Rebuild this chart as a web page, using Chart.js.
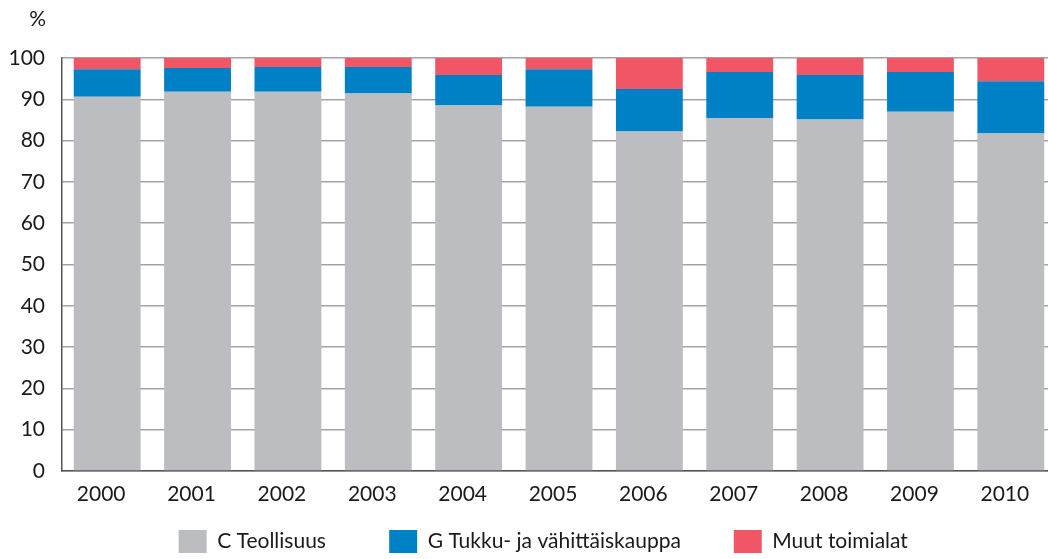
<!DOCTYPE html>
<html>
<head>
<meta charset="utf-8">
<script src="https://cdn.jsdelivr.net/npm/chart.js@4"></script>
<style>
  html, body { margin: 0; padding: 0; background: #fff; overflow: hidden; }
  #wrap { width: 1056px; height: 559px; }
</style>
</head>
<body>
<div id="wrap"><canvas id="myChart" width="1056" height="559"></canvas></div>
<script>
const years = ["2000", "2001", "2002", "2003", "2004", "2005", "2006", "2007", "2008", "2009", "2010"];
const teollisuus = [90.6, 91.8, 91.8, 91.4, 88.5, 88.2, 82.2, 85.5, 85.1, 87.0, 81.7];
const kauppa = [6.7, 5.8, 6.0, 6.4, 7.4, 9.1, 10.3, 11.1, 10.8, 9.6, 12.7];
const muut = [2.7, 2.4, 2.2, 2.2, 4.1, 2.7, 7.5, 3.4, 4.1, 3.4, 5.6];
const seriesNames = ["C Teollisuus", "G Tukku- ja vähittäiskauppa", "Muut toimialat"];
const yTicks = [0, 10, 20, 30, 40, 50, 60, 70, 80, 90, 100];

const fontFamily = "Lato, 'Liberation Sans', sans-serif";
const textColor = "#1a1a1a";
// extra trailing room after legend entries (the original spaces them unevenly)
const legendGaps = ["\u2003\u2003  ", "\u2003   ", "\u2003\u2003"];

// "%" unit label above the y axis
const unitLabel = {
    id: "unitLabel",
    afterDraw(chart) {
        let ctx = chart.ctx;
        let y = chart.scales.y;
        ctx.save();
        ctx.font = "21px " + fontFamily;
        ctx.fillStyle = textColor;
        ctx.textAlign = "right";
        ctx.textBaseline = "middle";
        ctx.fillText("%", y.right - 16, y.getPixelForValue(100) - 39);
        ctx.restore();
    }
};

let ctx = document.getElementById("myChart").getContext("2d");

let myChart = new Chart(ctx, {
    type: "bar",
    data: {
        labels: years,
        datasets: [
            { label: seriesNames[0], data: teollisuus, backgroundColor: "#bcbdc0" },
            { label: seriesNames[1], data: kauppa, backgroundColor: "#0081c6" },
            { label: seriesNames[2], data: muut, backgroundColor: "#f15667" }
        ]
    },
    options: {
        responsive: false,
        animation: false,
        layout: { padding: { top: 58, left: 10, right: 0, bottom: -4 } },
        datasets: {
            bar: { categoryPercentage: 1, barPercentage: 0.74 }
        },
        plugins: {
            tooltip: { enabled: false },
            legend: {
                position: "bottom",
                fullSize: false,
                labels: {
                    color: textColor,
                    font: { family: fontFamily, size: 21 },
                    boxWidth: 28,
                    boxHeight: 23,
                    padding: 21,
                    generateLabels: chart => {
                        let items = Chart.defaults.plugins.legend.labels.generateLabels(chart);
                        items.forEach((item, i) => { item.text = item.text + legendGaps[i]; });
                        return items;
                    }
                }
            }
        },
        scales: {
            x: {
                stacked: true,
                grid: { display: false, drawTicks: false },
                border: { color: "#555", width: 1.5 },
                ticks: {
                    color: textColor,
                    font: { family: fontFamily, size: 21 },
                    padding: 11,
                    labelOffset: -6,
                    maxRotation: 0,
                    minRotation: 0
                },
                afterFit: scale => { scale.height = 38; }
            },
            y: {
                stacked: true,
                min: 0,
                max: 100,
                afterBuildTicks: scale => { scale.ticks = yTicks.map(v => ({ value: v })); },
                grid: { color: "#a3a3a3", lineWidth: 1.5, drawTicks: false },
                border: { color: "#555", width: 1.5 },
                ticks: {
                    color: textColor,
                    font: { family: fontFamily, size: 21 },
                    padding: 17
                },
                afterFit: scale => { scale.width = 52; }
            }
        }
    },
    plugins: [unitLabel]
});
</script>
</body>
</html>
